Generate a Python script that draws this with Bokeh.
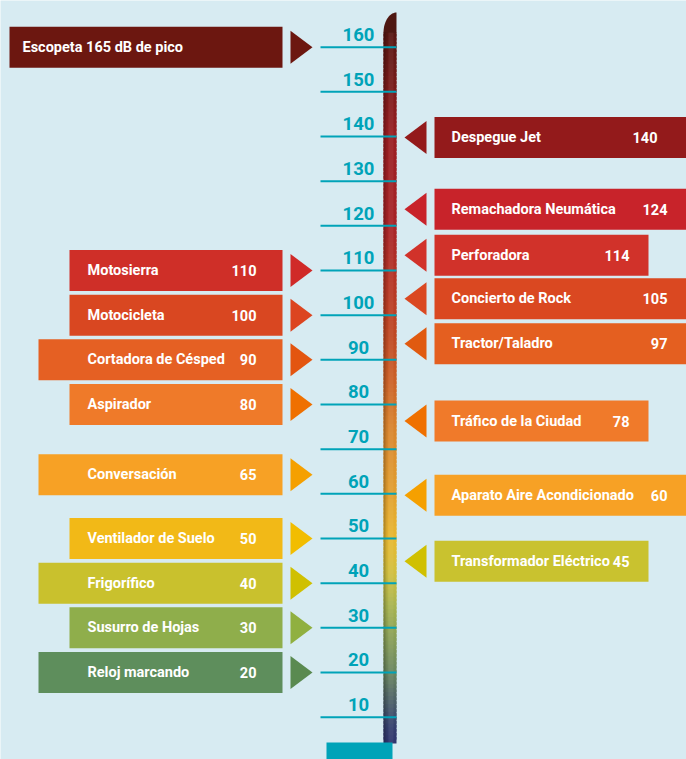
import numpy as np
from bokeh.plotting import figure
from bokeh.models import Range1d, ColumnDataSource
from bokeh.core.properties import value
from bokeh.embed import file_html
from bokeh.resources import INLINE

# ---------------- data ----------------
ticks = [10, 20, 30, 40, 50, 60, 70, 80, 90, 100, 110, 120, 130, 140, 150, 160]

left_labels = ["Escopeta 165 dB de pico", "Motosierra", "Motocicleta", "Cortadora de Césped",
               "Aspirador", "Conversación", "Ventilador de Suelo", "Frigorífico",
               "Susurro de Hojas", "Reloj marcando"]
left_values = [165, 110, 100, 90, 80, 65, 50, 40, 30, 20]
left_value_text = ["", "110", "100", "90", "80", "65", "50", "40", "30", "20"]

right_labels = ["Despegue Jet", "Remachadora Neumática", "Perforadora", "Concierto de Rock",
                "Tractor/Taladro", "Tráfico de la Ciudad", "Aparato Aire Acondicionado",
                "Transformador Eléctrico"]
right_values = [140, 124, 114, 105, 97, 78, 60, 45]
right_value_text = [str(v) for v in right_values]

# ---------------- layout / style ----------------
BG = "#d7ebf2"
TEAL = "#00a3b8"
FONT = "Roboto"
LBL_SIZE = "14.5px"

left_pos = [160, 110, 100, 90, 80, 64.3, 50, 40, 30, 20]
left_box_x0 = [9, 69, 69, 38, 69, 38, 69, 38, 69, 38]
left_text_x = [22, 87, 87, 87, 87, 87, 87, 87, 87, 87]
left_box_colors = ["#6c1710", "#cf2f28", "#d94721", "#e56023", "#ef7a29",
                   "#f7a125", "#f2b917", "#c9c12d", "#8fae4b", "#5e8e5c"]
left_tri_colors = ["#6c1710", "#d02a28", "#dc4520", "#e35510", "#ef7000",
                   "#f5a000", "#f2bd00", "#d0c000", "#90b040", "#5a8a50"]

right_pos = [139.8, 123.7, 113.4, 103.7, 93.6, 76.3, 59.7, 44.9]
right_box_x1 = [686, 686, 648, 686, 686, 648, 686, 648]
right_val_x = [657, 667, 629, 667, 667, 629, 667, 629]
right_box_colors = ["#931a1b", "#c8232a", "#d1322a", "#da4821", "#e45f20",
                    "#f07a2a", "#f7a125", "#c9c22f"]
right_tri_colors = ["#931a1b", "#c8232a", "#d1322a", "#da4821", "#e05a10",
                    "#ef7000", "#f5a000", "#d0c000"]

# thermometer gradient stops (dB, color)
grad_db = [4, 8, 13, 20, 28, 35, 42, 50, 60, 75, 85, 95, 105, 120, 140, 155, 168]
grad_col = ["#2e336e", "#36406e", "#4a5e6a", "#6a8660", "#8aa058", "#a8b450", "#d0c040",
            "#e8b830", "#e2a030", "#d8842e", "#cc6228", "#c04a25", "#b83a26", "#a82428",
            "#9a1e22", "#6e1a18", "#4a1510"]

W, H = 686, 759
PX = 4.4667           # pixels per dB (44.67 px per 10 dB)
REF_Y, REF_V = 716.7, 10
Y1 = REF_V + REF_Y / PX
Y0 = REF_V - (H - REF_Y) / PX

p = figure(width=W, height=H, x_range=Range1d(0, W), y_range=Range1d(Y0, Y1),
           output_backend="svg", toolbar_location=None, x_axis_type=None, y_axis_type=None,
           min_border=0, background_fill_color=BG, border_fill_color=BG)
p.grid.visible = False
p.outline_line_color = None

def page_to_db(yp):
    return REF_V + (REF_Y - yp) / PX

# ---------------- thermometer ----------------
def hex2rgb(h):
    return np.array([int(h[i:i + 2], 16) for i in (1, 3, 5)], dtype=float)

stops = np.array([hex2rgb(c) for c in grad_col])
bar_bottom = page_to_db(743)
bar_top = page_to_db(32)
n = 180
edges = np.linspace(bar_bottom, bar_top, n + 1)
mids = (edges[:-1] + edges[1:]) / 2
cols = []
for m in mids:
    rgb = [np.interp(m, grad_db, stops[:, k]) for k in range(3)]
    cols.append("#%02x%02x%02x" % tuple(int(round(c)) for c in rgb))
tops = np.minimum(edges[1:] + 0.6, bar_top)
p.quad(left=383, right=396, bottom=edges[:-1], top=tops, fill_color=cols,
       line_color=None)
# rounded cap
t = np.linspace(0, np.pi / 2, 20)
cap_x = list(396 - 13 * np.cos(t)) + [396]
cap_y = list(page_to_db(32.5 - 20.5 * np.sin(t))) + [page_to_db(32.5)]
p.patch(cap_x, cap_y, fill_color="#4e1712", line_color=None)
# cylinder shading
p.quad(left=383, right=385, bottom=bar_bottom, top=bar_top, fill_color="black",
       fill_alpha=0.22, line_color=None)
p.quad(left=385, right=387, bottom=bar_bottom, top=bar_top, fill_color="black",
       fill_alpha=0.08, line_color=None)
p.quad(left=388, right=393, bottom=bar_bottom, top=bar_top, fill_color="white",
       fill_alpha=0.06, line_color=None)
# teal base
p.quad(left=326, right=392, bottom=Y0 - 1, top=page_to_db(742), fill_color=TEAL,
       line_color=None)

# ---------------- ticks ----------------
p.segment(x0=320, x1=396, y0=ticks, y1=ticks, line_color=TEAL, line_width=2)
p.text(x=358, y=[t_ + 12.7 / PX for t_ in ticks], text=[str(t_) for t_ in ticks],
       text_align="center", text_baseline="middle", text_color=TEAL,
       text_font=value(FONT), text_font_style="bold", text_font_size="18.5px")

# ---------------- left labels ----------------
hh = 41
tri_h = 16.5 / PX
lsrc = ColumnDataSource(dict(
    x=[(x0 + 282) / 2 for x0 in left_box_x0], w=[282 - x0 for x0 in left_box_x0],
    y=left_pos, c=left_box_colors, tx=left_text_x, lab=left_labels, val=left_value_text))
p.rect(x="x", y="y", width="w", height=hh, height_units="screen", fill_color="c",
       line_color=None, source=lsrc)
p.patches(xs=[[290, 312, 290] for _ in left_pos],
          ys=[[y + tri_h, y, y - tri_h] for y in left_pos],
          fill_color=left_tri_colors, line_color=None)
p.text(x="tx", y="y", text="lab", source=lsrc, text_color="white", text_align="left",
       text_baseline="middle", text_font=value(FONT), text_font_style="bold",
       text_font_size=LBL_SIZE)
p.text(x=256, y="y", text="val", source=lsrc, text_color="white", text_align="right",
       text_baseline="middle", text_font=value(FONT), text_font_style="bold",
       text_font_size=LBL_SIZE)

# ---------------- right labels ----------------
rsrc = ColumnDataSource(dict(
    x=[(434 + x1) / 2 for x1 in right_box_x1], w=[x1 - 434 for x1 in right_box_x1],
    y=right_pos, c=right_box_colors, lab=right_labels, val=right_value_text, vx=right_val_x))
p.rect(x="x", y="y", width="w", height=hh, height_units="screen", fill_color="c",
       line_color=None, source=rsrc)
p.patches(xs=[[426, 404, 426] for _ in right_pos],
          ys=[[y + tri_h, y, y - tri_h] for y in right_pos],
          fill_color=right_tri_colors, line_color=None)
p.text(x=451, y="y", text="lab", source=rsrc, text_color="white", text_align="left",
       text_baseline="middle", text_font=value(FONT), text_font_style="bold",
       text_font_size=LBL_SIZE)
p.text(x="vx", y="y", text="val", source=rsrc, text_color="white", text_align="right",
       text_baseline="middle", text_font=value(FONT), text_font_style="bold",
       text_font_size=LBL_SIZE)

open("out.html", "w").write(file_html(p, INLINE))
